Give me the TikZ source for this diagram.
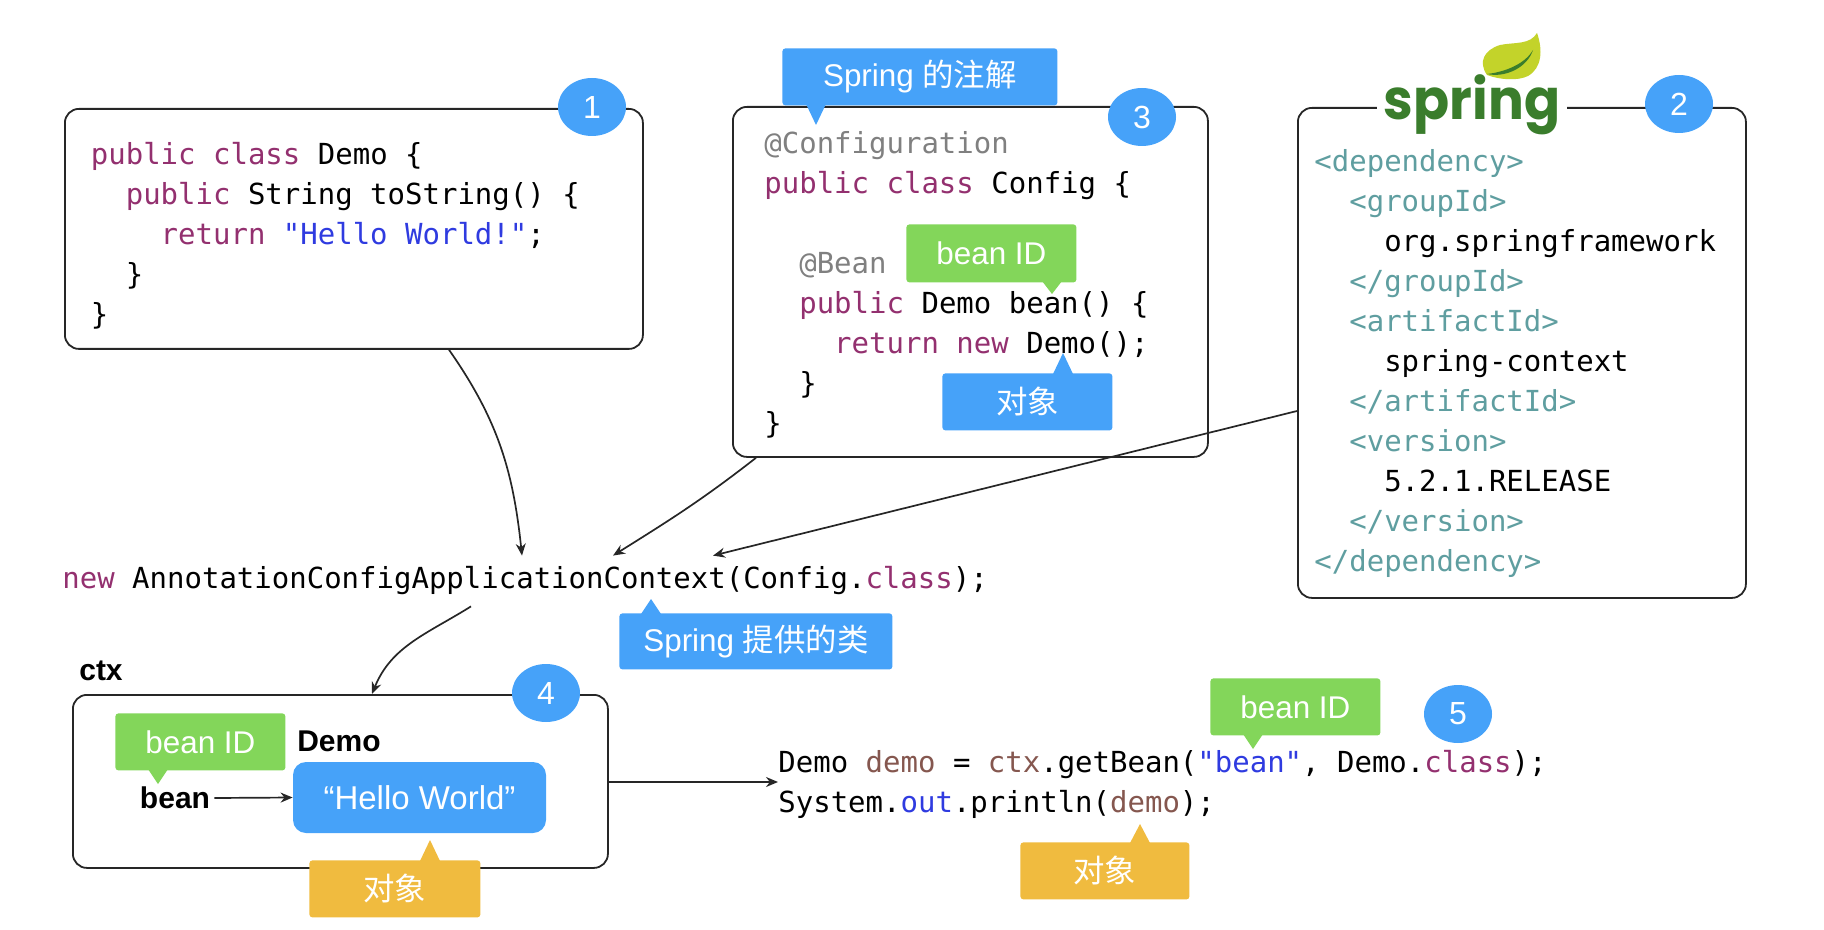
\documentclass[tikz,border=0pt]{standalone}
\usepackage{fontspec}
\setmainfont{Liberation Sans}
\newfontfamily\codefont{DejaVu Sans Mono}
\newfontfamily\logofont[FakeStretch=0.95]{Poppins}
\newfontfamily\cjk{Noto Sans CJK SC}
\usetikzlibrary{arrows.meta,shapes.geometric}

\definecolor{tagblue}{HTML}{46A2F9}
\definecolor{taggreen}{HTML}{83D65A}
\definecolor{tagyellow}{HTML}{F0BB3F}
\definecolor{kwcolor}{HTML}{93306F}
\definecolor{strcolor}{HTML}{2F3BE0}
\definecolor{notecolor}{HTML}{808080}
\definecolor{xmlcolor}{HTML}{5F9EA0}
\definecolor{varcolor}{HTML}{85574F}
\definecolor{logogreen}{HTML}{3A7D2C}
\definecolor{leafgreen}{HTML}{C3D32A}

\newcommand{\kw}[1]{\textcolor{kwcolor}{#1}}
\newcommand{\str}[1]{\textcolor{strcolor}{#1}}
\newcommand{\note}[1]{\textcolor{notecolor}{#1}}
\newcommand{\xml}[1]{\textcolor{xmlcolor}{#1}}
\newcommand{\var}[1]{\textcolor{varcolor}{#1}}
\newcommand{\ind}{\phantom{xx}}

\tikzset{
    codebox/.style={draw=black!85, line width=0.9pt, rounded corners=7pt, inner sep=0pt, anchor=north west},
    codetext/.style={inner sep=0pt, anchor=west, align=left, font=\codefont\fontsize{14.5pt}{20pt}\selectfont},
    badge/.style={ellipse, fill=tagblue, text=white, inner sep=0pt, minimum width=34pt, minimum height=29pt, font=\fontsize{16pt}{18pt}\selectfont},
    tag/.style={rounded corners=1.5pt, text=white, inner sep=0pt, anchor=north west, font=\fontsize{15.7pt}{18pt}\selectfont},
    boldlabel/.style={inner sep=0pt, font=\bfseries\fontsize{15pt}{16pt}\selectfont},
    flow/.style={-{Stealth[length=6pt,width=5pt]}, line width=0.85pt, black!85},
}

\begin{document}
\begin{tikzpicture}[x=0.5pt,y=-0.5pt]
    \useasboundingbox (0,0) rectangle (1824,930);

    % boxes
    \node[codebox, minimum width=289pt, minimum height=120pt] (demoBox) at (64,108) {};
    \node[codebox, minimum width=237.5pt, minimum height=175pt] (configBox) at (732,106) {};
    \node[codebox, minimum width=224pt, minimum height=245pt] (depBox) at (1297,107) {};
    \node[codebox, minimum width=267.5pt, minimum height=86.5pt] (ctxBox) at (72,694) {};

    % logo
    \node[fill=white, inner sep=0pt, minimum width=95pt, text=logogreen, anchor=base,
        font=\logofont\bfseries\fontsize{28pt}{30pt}\selectfont] (logo) at (1472,120) {spring};
    \fill[leafgreen] (1487,75) .. controls (1478,62) and (1484,50) .. (1500,45)
        .. controls (1515,42) and (1530,45) .. (1537,33)
        .. controls (1543,50) and (1542,68) .. (1528,76)
        .. controls (1518,81) and (1500,80) .. (1487,75) -- cycle;
    \fill[logogreen] (1487,74) .. controls (1505,72) and (1525,64) .. (1533,50)
        .. controls (1527,68) and (1505,78) .. (1487,74) -- cycle;

    % code
    \node[codetext] (demoCode) at (90.5,235.5) {\kw{public class} Demo \{\\
        \ind\kw{public} String toString() \{\\
        \ind\ind\kw{return} \str{"Hello World!"};\\
        \ind\}\\
        \}};
    \node[codetext] (configCode) at (764,284.5) {\note{@Configuration}\\
        \kw{public class} Config \{\\
        \mbox{}\\
        \ind\note{@Bean}\\
        \ind\kw{public} Demo bean() \{\\
        \ind\ind\kw{return new} Demo();\\
        \ind\}\\
        \}};
    \node[codetext] (depCode) at (1314,363) {\xml{<dependency>}\\
        \ind\xml{<groupId>}\\
        \ind\ind org.springframework\\
        \ind\xml{</groupId>}\\
        \ind\xml{<artifactId>}\\
        \ind\ind spring-context\\
        \ind\xml{</artifactId>}\\
        \ind\xml{<version>}\\
        \ind\ind 5.2.1.RELEASE\\
        \ind\xml{</version>}\\
        \xml{</dependency>}};
    \node[codetext, minimum height=25pt] (newLine) at (62,581) {\kw{new} AnnotationConfigApplicationContext(Config.\kw{class});};
    \node[codetext] (getBean) at (778,784) {Demo \var{demo} = \var{ctx}.getBean(\str{"bean"}, Demo.\kw{class});\\
        System.\str{out}.println(\var{demo});};

    % connectors
    \draw[flow] ([xshift=192.5pt]demoBox.south west) to[out=-55,in=96] ([xshift=230pt]newLine.north west);
    \draw[flow] ([xshift=12pt]configBox.south west) to[out=-142,in=32] ([xshift=275.5pt]newLine.north west);
    \draw[flow] ([yshift=-152pt]depBox.north west) -- ([xshift=325.5pt]newLine.north west);
    \draw[flow] ([xshift=204.5pt]newLine.south west) to[out=212,in=68] ([xshift=150pt]ctxBox.north west);
    \draw[flow] ([yshift=-44pt]ctxBox.north east) -- ([yshift=1pt]getBean.west);

    % ctx box
    \node[boldlabel] (ctxLabel) at (101,671) {ctx};
    \node[boldlabel] (demoLabel) at (339,741) {Demo};
    \node[boldlabel] (beanLabel) at (175,798) {bean};
    \node[rounded corners=6.5pt, fill=tagblue, text=white, inner sep=0pt, minimum width=126.5pt, minimum height=35.5pt,
        font=\fontsize{16.5pt}{18pt}\selectfont] (helloBox) at (419.5,797.5) {“Hello World”};
    \draw[flow] ([xshift=2pt]beanLabel.east) -- (helloBox.west);

    % tags
    \foreach \name/\col/\x/\y/\w/\h/\ax/\by/\ay/\txt in {
            annoTag/tagblue/782/48/137.5/28.5/816/104/125/{Spring {\cjk 的注解}},
            idTagA/taggreen/906/224/85/29/1052/281/294/{bean ID},
            objTagA/tagblue/942/373/85/28.5/1063/374/353/{\cjk 对象},
            classTag/tagblue/619/613/136.5/28/651/614/599/{Spring {\cjk 提供的类}},
            idTagB/taggreen/115/713/85/28.5/158/769/784/{bean ID},
            objTagB/tagyellow/309/860/85.5/28.5/430/861/840/{\cjk 对象},
            idTagC/taggreen/1210/678/85/28.5/1253/734/749/{bean ID},
            objTagC/tagyellow/1020/842/84.5/28.5/1140/843/824/{\cjk 对象}}
        {
            \fill[\col] ({\ax-10},\by) -- (\ax,\ay) -- ({\ax+10},\by) -- cycle;
            \node[tag, fill=\col, minimum width=\w pt, minimum height=\h pt] (\name) at (\x,\y) {\txt};
        }

    % badges
    \foreach \n/\x/\y in {1/592/107, 2/1679/104, 3/1142/117, 4/546/693, 5/1458/714}
        {
            \node[badge] (badge\n) at (\x,\y) {\n};
        }
\end{tikzpicture}
\end{document}
